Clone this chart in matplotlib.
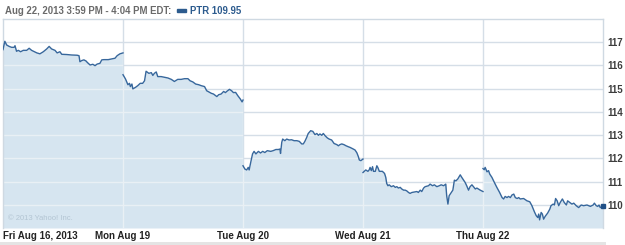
import matplotlib
matplotlib.use("Agg")
import matplotlib.pyplot as plt
from matplotlib.patches import Rectangle
import numpy as np

plt.rcParams["font.family"] = ["Liberation Sans", "DejaVu Sans"]

# minutes after the 9:30 open, and last trade price, one list pair per session
fri_min = [0, 6, 12, 20, 28, 36, 39, 44, 50, 57, 66, 77, 85, 93, 110, 120, 131, 142, 150, 158,
           169, 176, 185, 191, 207, 223, 241, 247, 250, 256, 263, 270, 274, 283, 292, 299, 306,
           315, 321, 328, 342, 353, 364, 371, 380, 390]
fri_px = [116.68, 117.04, 116.88, 116.82, 116.78, 116.78, 116.85, 116.61, 116.65, 116.59,
          116.65, 116.65, 116.74, 116.65, 116.54, 116.50, 116.59, 116.71, 116.82, 116.71,
          116.65, 116.54, 116.59, 116.48, 116.47, 116.45, 116.44, 116.42, 116.16, 116.21,
          116.24, 116.19, 116.13, 116.02, 116.05, 115.99, 116.06, 116.09, 116.24, 116.25,
          116.25, 116.28, 116.31, 116.42, 116.50, 116.54]

mon_min = [0, 8, 16, 21, 24, 29, 32, 41, 48, 56, 64, 70, 75, 84, 92, 97, 102, 108, 113, 124,
           135, 146, 157, 167, 178, 189, 200, 211, 218, 227, 236, 246, 254, 265, 272, 279, 287,
           294, 305, 311, 319, 327, 333, 337, 346, 353, 359, 366, 373, 381, 387, 390]
mon_px = [115.60, 115.42, 115.17, 115.23, 115.09, 115.20, 114.99, 115.06, 115.13, 115.23,
          115.23, 115.34, 115.75, 115.66, 115.69, 115.57, 115.66, 115.72, 115.52, 115.52,
          115.49, 115.46, 115.40, 115.31, 115.40, 115.40, 115.43, 115.43, 115.34, 115.29,
          115.20, 115.17, 115.13, 115.09, 114.91, 114.86, 114.80, 114.77, 114.66, 114.74,
          114.77, 114.88, 114.83, 114.88, 114.97, 114.91, 114.83, 114.84, 114.70, 114.56,
          114.43, 114.51]

tue_min = [0, 6, 12, 17, 20, 25, 31, 36, 42, 50, 57, 64, 71, 79, 90, 98, 107, 115, 120, 122,
           126, 129, 136, 142, 150, 158, 166, 175, 183, 191, 196, 201, 207, 212, 220, 227, 234,
           240, 245, 250, 256, 261, 267, 274, 280, 288, 296, 305, 310, 315, 321, 328, 335, 342,
           348, 357, 364, 370, 375, 378, 383, 390]
tue_px = [111.68, 111.54, 111.50, 111.61, 111.50, 111.82, 112.19, 112.30, 112.19, 112.30,
          112.23, 112.30, 112.25, 112.33, 112.30, 112.33, 112.38, 112.38, 112.40, 112.21,
          112.69, 112.83, 112.76, 112.83, 112.79, 112.80, 112.76, 112.76, 112.73, 112.62,
          112.62, 112.73, 112.90, 113.07, 113.19, 113.16, 113.02, 113.07, 112.99, 113.05,
          112.99, 113.07, 112.97, 112.88, 112.83, 112.79, 112.64, 112.59, 112.54, 112.59,
          112.62, 112.59, 112.54, 112.50, 112.47, 112.41, 112.36, 112.24, 112.07, 111.93,
          111.90, 111.97]

wed_min = [0, 9, 16, 20, 23, 27, 31, 34, 40, 45, 48, 53, 59, 63, 70, 74, 77, 81, 85, 92,
           99, 105, 110, 115, 121, 126, 132, 137, 142, 148, 153, 159, 167, 175, 180, 186, 191,
           197, 202, 213, 218, 226, 232, 240, 248, 254, 262, 269, 272, 276, 280, 287, 292, 297,
           302, 308, 316, 321, 327, 332, 337, 343, 348, 354, 359, 365, 370, 375, 381, 390]
wed_px = [111.39, 111.50, 111.44, 111.50, 111.61, 111.47, 111.64, 111.44, 111.44, 111.68,
          111.61, 111.44, 111.44, 111.44, 111.35, 111.18, 110.92, 110.82, 110.86, 110.78,
          110.82, 110.75, 110.78, 110.72, 110.75, 110.68, 110.63, 110.63, 110.60, 110.53,
          110.49, 110.53, 110.55, 110.57, 110.53, 110.63, 110.57, 110.72, 110.78, 110.82,
          110.89, 110.82, 110.86, 110.78, 110.82, 110.86, 110.82, 110.89, 110.39, 110.03,
          110.39, 110.53, 110.63, 111.06, 111.03, 111.11, 111.29, 111.18, 111.06, 110.96,
          110.82, 110.63, 110.78, 110.86, 110.78, 110.68, 110.72, 110.68, 110.63, 110.57]

thu_min = [0, 4, 7, 13, 18, 22, 29, 37, 45, 54, 62, 67, 72, 78, 83, 89, 94, 100, 105, 111,
           116, 121, 132, 143, 152, 159, 167, 173, 178, 181, 184, 189, 193, 197, 202, 210, 217,
           221, 228, 232, 236, 241, 246, 251, 258, 264, 271, 275, 282, 289, 295, 303, 311, 319,
           327, 338, 349, 358, 362, 368, 373, 377, 381, 390]
thu_px = [111.56, 111.51, 111.61, 111.42, 111.47, 111.32, 111.18, 110.96, 110.75, 110.53,
          110.31, 110.25, 110.36, 110.31, 110.36, 110.31, 110.42, 110.46, 110.31, 110.27,
          110.31, 110.25, 110.27, 110.17, 110.13, 109.96, 109.70, 109.53, 109.45, 109.60,
          109.35, 109.67, 109.60, 109.38, 109.50, 109.64, 109.81, 109.96, 110.03, 109.99,
          110.27, 110.17, 109.96, 110.10, 110.25, 110.10, 109.99, 110.17, 110.10, 110.03,
          110.07, 109.96, 109.88, 109.99, 109.96, 109.99, 109.93, 109.99, 110.07, 109.96,
          109.93, 109.99, 109.88, 109.95]

day_labels = ["Fri Aug 16, 2013", "Mon Aug 19", "Tue Aug 20", "Wed Aug 21", "Thu Aug 22"]
price_ticks = [110, 111, 112, 113, 114, 115, 116, 117]
header = "Aug 22, 2013 3:59 PM - 4:04 PM EDT:"
symbol = "PTR 109.95"

LINE = "#37679c"
FILL = "#d6e5f0"
GRID = "#d5dee7"
GRID_IN = "#e9f0f5"

sessions = [(fri_min, fri_px), (mon_min, mon_px), (tue_min, tue_px),
            (wed_min, wed_px), (thu_min, thu_px)]

fig = plt.figure(figsize=(6.25, 2.45), dpi=100)
ax = fig.add_axes([3 / 625, 17 / 245, 600 / 625, 209 / 245])
ax.set_xlim(0, 5)
ax.set_ylim(109, 118)

xs, ys = [], []
for d, (mins, px) in enumerate(sessions):
    x = d + np.array(mins) / 390.0
    xs.append(x)
    ys.append(np.array(px))
all_x = np.concatenate(xs)
all_y = np.concatenate(ys)

poly = ax.fill_between(all_x, all_y, 109, color=FILL, lw=0, zorder=1)
clip = poly.get_paths()[0]

# grid: grey on white, near-white inside the filled area
for v in price_ticks:
    ax.axhline(v, color=GRID, lw=1, zorder=0.5)
    ln = ax.axhline(v, color=GRID_IN, lw=1, zorder=1.5)
    ln.set_clip_path(clip, ax.transData)
for d in range(1, 5):
    ax.axvline(d, color=GRID, lw=1, zorder=0.5)
    ln = ax.axvline(d, color=GRID_IN, lw=1, zorder=1.5)
    ln.set_clip_path(clip, ax.transData)

for x, y in zip(xs, ys):
    ax.plot(x, y, color=LINE, lw=1, zorder=3)
ax.plot(xs[-1][-1], ys[-1][-1], marker="s", ms=3.5, color="#1f4f86", zorder=4, clip_on=False)

ax.yaxis.tick_right()
ax.set_yticks(price_ticks)
ax.set_yticklabels([str(v) for v in price_ticks])
ax.tick_params(axis="y", length=0, pad=3, labelsize=7, labelcolor="#3d3d3d")
for t in ax.get_yticklabels():
    t.set_fontweight("bold")

ax.set_xticks(range(5))
ax.set_xticklabels(day_labels)
ax.tick_params(axis="x", length=0, pad=2.5, labelsize=7, labelcolor="#222222")
for i, t in enumerate(ax.get_xticklabels()):
    t.set_fontweight("bold")
    if i == 0:
        t.set_ha("left")

for s in ax.spines.values():
    s.set_color("#cfd9e2")
    s.set_linewidth(1)
ax.spines["bottom"].set_visible(False)

ax.text(0.008, 0.04, "\u00a9 2013 Yahoo! Inc.", transform=ax.transAxes, fontsize=5.5,
        color="#b3c5d3", zorder=2)

fig.text(5 / 625, 1 - 11 / 245, header, fontsize=6.9, fontweight="bold", color="#6a6a6a",
         va="center")
fig.patches.append(Rectangle((177 / 625, 1 - 12.5 / 245), 9 / 625, 3 / 245,
                             transform=fig.transFigure, color="#2c5b8e"))
fig.text(190 / 625, 1 - 11 / 245, symbol, fontsize=6.9, fontweight="bold", color="#2c5b8e",
         va="center")
fig.patches.append(Rectangle((0, 0), 606 / 625, 3 / 245, transform=fig.transFigure,
                             color="#e4e4e4", lw=0))

fig.savefig("out.png", dpi=100)
